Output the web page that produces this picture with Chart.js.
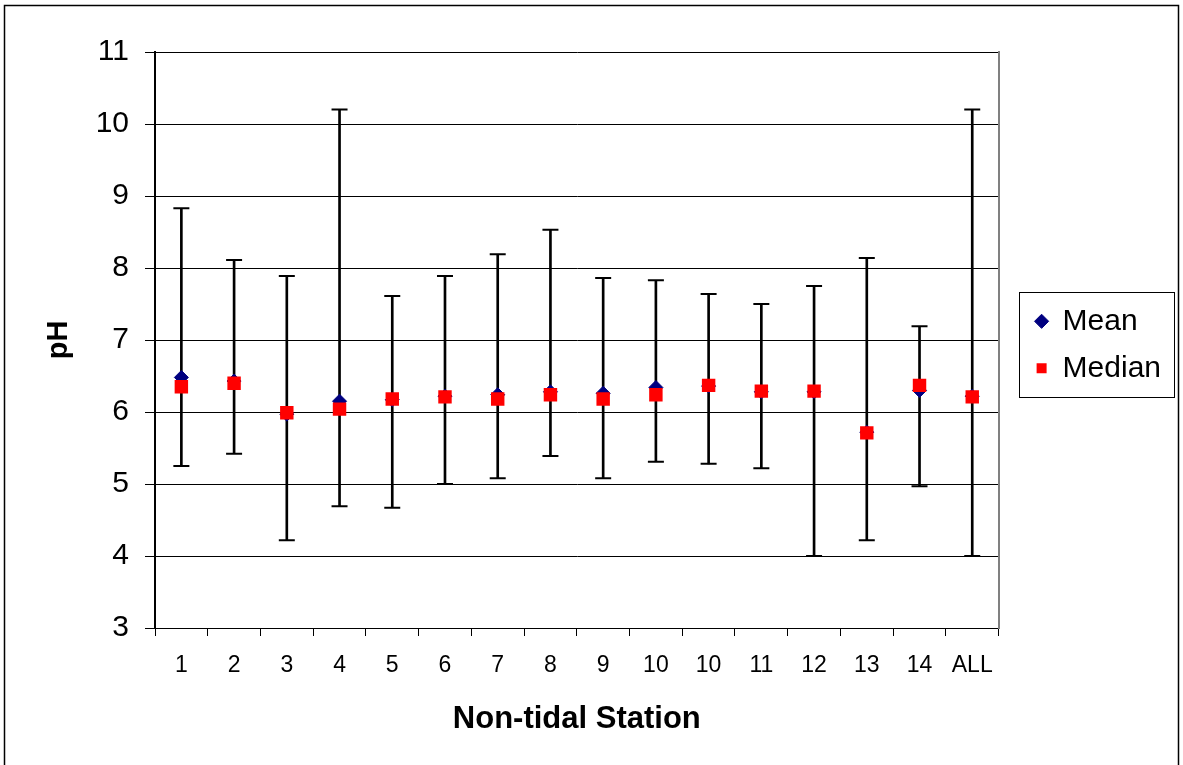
<!DOCTYPE html>
<html>
<head>
<meta charset="utf-8">
<script src="https://cdn.jsdelivr.net/npm/chart.js@4.4.1/dist/chart.umd.min.js"></script>
<style>
  body { margin: 0; background: #fff; }
  #phChart { position: absolute; left: 0; top: 0; }
</style>
</head>
<body>
<canvas id="phChart" width="1183" height="765"></canvas>
<script>
// station labels along the bottom (10 shows up twice in the original)
const stations = ['1', '2', '3', '4', '5', '6', '7', '8', '9', '10', '10', '11', '12', '13', '14', 'ALL'];
const meanVals = [6.48, 6.43, 5.97, 6.15, 6.17, 6.22, 6.24, 6.28, 6.26, 6.34, 6.36, 6.28, 6.28, 5.72, 6.30, 6.22];
const medianVals = [6.35, 6.40, 5.99, 6.04, 6.18, 6.21, 6.18, 6.24, 6.18, 6.24, 6.37, 6.29, 6.29, 5.71, 6.37, 6.21];
const maxVals = [8.83, 8.11, 7.89, 10.2, 7.61, 7.89, 8.19, 8.53, 7.86, 7.83, 7.64, 7.50, 7.75, 8.14, 7.19, 10.2];
const minVals = [5.25, 5.42, 4.22, 4.69, 4.67, 5.00, 5.08, 5.39, 5.08, 5.31, 5.28, 5.22, 4.00, 4.22, 4.97, 4.00];
const yTicks = [3, 4, 5, 6, 7, 8, 9, 10, 11];

const fontName = "'Liberation Sans', Arial, sans-serif";

// outer frame + box round the legend
const framePlugin = {
  id: 'framePlugin',
  beforeDraw(chart) {
    const ctx = chart.ctx;
    ctx.save();
    ctx.fillStyle = '#fff';
    ctx.fillRect(0, 0, chart.width, chart.height);
    ctx.strokeStyle = '#000';
    ctx.lineWidth = 1.5;
    ctx.strokeRect(4.5, 5.5, 1174, 800);
    ctx.restore();
  },
  afterDraw(chart) {
    const hb = chart.legend.legendHitBoxes;
    if (!hb || !hb.length) return;
    const ctx = chart.ctx;
    const last = hb[hb.length - 1];
    ctx.save();
    ctx.strokeStyle = '#000';
    ctx.lineWidth = 1;
    ctx.strokeRect(Math.round(hb[0].left - 17) + 0.5, Math.round(hb[0].top - 14) + 0.5, 155, Math.round(last.top + last.height + 14 - (hb[0].top - 14)));
    ctx.restore();
  }
};

const ctx = document.getElementById('phChart').getContext('2d');
const phChart = new Chart(ctx, {
  type: 'bar',
  data: {
    labels: stations,
    datasets: [
      {
        type: 'line',
        label: 'Mean',
        data: meanVals,
        showLine: false,
        pointStyle: 'rectRot',
        pointRadius: 7,
        pointBackgroundColor: '#000080',
        pointBorderColor: '#000080',
        pointBorderWidth: 1,
        backgroundColor: '#000080',
        borderColor: '#000080',
        order: 2
      },
      {
        type: 'line',
        label: 'Median',
        data: medianVals,
        showLine: false,
        pointStyle: 'rect',
        pointRadius: 9.5,
        pointBackgroundColor: '#ff0000',
        pointBorderColor: '#ff0000',
        pointBorderWidth: 0,
        backgroundColor: '#ff0000',
        borderColor: '#ff0000',
        order: 1
      },
      {
        type: 'line',
        label: 'max',
        data: maxVals,
        showLine: false,
        pointStyle: 'line',
        pointRadius: 8,
        pointBorderWidth: 2,
        pointBorderColor: '#000',
        borderColor: '#000',
        order: 3
      },
      {
        type: 'line',
        label: 'min',
        data: minVals,
        showLine: false,
        pointStyle: 'line',
        pointRadius: 8,
        pointBorderWidth: 2,
        pointBorderColor: '#000',
        borderColor: '#000',
        order: 3
      },
      {
        type: 'bar',
        label: 'range',
        data: minVals.map((v, i) => [v, maxVals[i]]),
        backgroundColor: '#000',
        barThickness: 2,
        grouped: false,
        order: 4
      }
    ]
  },
  options: {
    responsive: false,
    devicePixelRatio: 1,
    animation: false,
    events: [],
    layout: { padding: { top: 52, right: 12, bottom: 0, left: 0 } },
    plugins: {
      tooltip: { enabled: false },
      legend: {
        position: 'right',
        fullSize: false,
        // empty title just nudges the items down a few px
        title: { display: true, text: '', padding: 0, font: { size: 8 } },
        labels: {
          usePointStyle: true,
          boxWidth: 12,
          boxHeight: 10,
          padding: 17,
          color: '#000',
          font: { family: fontName, size: 30 },
          filter: item => item.text === 'Mean' || item.text === 'Median',
          sort: (a, b) => a.datasetIndex - b.datasetIndex
        }
      }
    },
    scales: {
      x: {
        grid: { display: true, drawOnChartArea: false, offset: true, tickLength: 8, color: '#000', lineWidth: 1 },
        border: { display: true, color: '#000', width: 1 },
        ticks: { color: '#000', padding: 16, maxRotation: 0, autoSkip: false, font: { family: fontName, size: 23 } },
        title: { display: true, text: 'Non-tidal Station', color: '#000', padding: { top: 24, bottom: 27 }, font: { family: fontName, size: 31, weight: 'bold' } },
        afterFit: s => { s.height = 137; }
      },
      y: {
        min: 3,
        max: 11,
        afterBuildTicks: s => { s.ticks = yTicks.map(v => ({ value: v })); },
        grid: { color: '#000', lineWidth: 1, tickLength: 10 },
        border: { display: true, color: '#000', width: 2 },
        ticks: { color: '#000', padding: 16, font: { family: fontName, size: 30 } },
        title: { display: true, text: 'pH', color: '#000', padding: { top: 42, bottom: 42 }, font: { family: fontName, size: 29, weight: 'bold' } },
        afterFit: s => { s.width = 155; }
      },
      y2: {
        position: 'right',
        grid: { display: false },
        border: { display: true, color: '#808080', width: 2 },
        ticks: { display: false },
        afterFit: s => { s.width = 20; }
      }
    }
  },
  plugins: [framePlugin]
});
</script>
</body>
</html>
